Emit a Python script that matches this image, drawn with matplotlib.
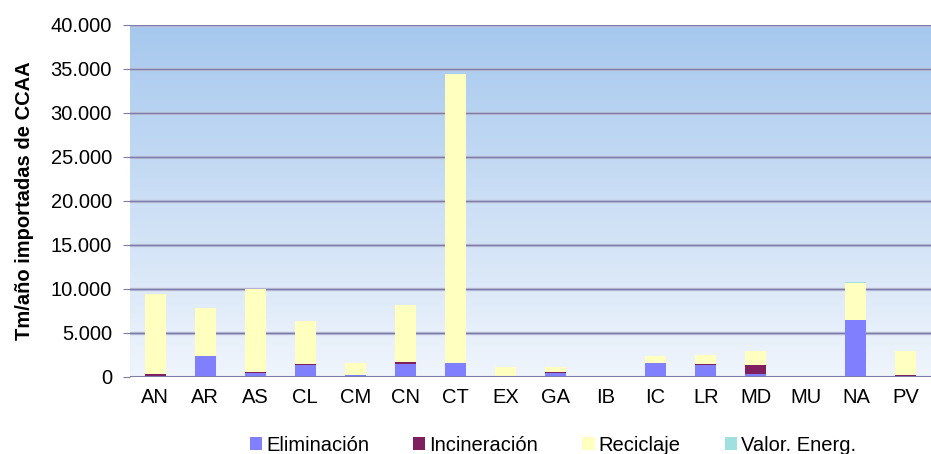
import numpy as np
import matplotlib
matplotlib.use("Agg")
import matplotlib.pyplot as plt
from matplotlib.colors import LinearSegmentedColormap
from matplotlib.ticker import FuncFormatter

regions = ["AN", "AR", "AS", "CL", "CM", "CN", "CT", "EX",
           "GA", "IB", "IC", "LR", "MD", "MU", "NA", "PV"]
eliminacion = [150, 2420, 490, 1400, 270, 1520, 1630, 0,
               420, 0, 1630, 1400, 380, 0, 6520, 80]
incineracion = [230, 0, 110, 110, 0, 230, 0, 0,
                110, 0, 0, 110, 1020, 80, 0, 190]
reciclaje = [9100, 5460, 9360, 4820, 1360, 6390, 32800, 1100,
             570, 70, 790, 1030, 1520, 0, 4200, 2650]
valor_energ = [0, 0, 50, 0, 0, 0, 0, 0,
               0, 0, 0, 0, 0, 0, 100, 0]

series = [
    ("Eliminación", eliminacion, "#8080ff"),
    ("Incineración", incineracion, "#7f1f5f"),
    ("Reciclaje", reciclaje, "#ffffc0"),
    ("Valor. Energ.", valor_energ, "#a0e0e0"),
]

plt.rcParams["font.family"] = ["Liberation Sans", "DejaVu Sans"]

fig = plt.figure(figsize=(9.31, 4.54), dpi=100)
ax = fig.add_axes([130 / 931, 77 / 454, 801 / 931, 352 / 454])

x = np.arange(len(regions))
ax.set_xlim(-0.5, len(regions) - 0.5)

# gradient background, darker blue at the top
grad = np.linspace(0, 1, 256).reshape(-1, 1)
cmap = LinearSegmentedColormap.from_list("bg", ["#a6c8ee", "#f0f5fc"])
ax.imshow(grad, aspect="auto", cmap=cmap, extent=(-0.5, len(regions) - 0.5, 0, 40000),
          zorder=0, origin="upper")
ax.set_ylim(0, 40000)

for yv in range(5000, 40001, 5000):
    ax.axhline(yv, color="#c0c4dc", lw=2.4, zorder=1)
    ax.axhline(yv, color="#7c7ca8", lw=1.0, zorder=1.1)
ax.axhline(0, color="#7c7ca8", lw=1.5, zorder=4)

bottom = np.zeros(len(regions))
for name, vals, col in series:
    ax.bar(x, vals, 0.42, bottom=bottom, color=col, label=name, zorder=3)
    bottom += np.array(vals)

for s in ax.spines.values():
    s.set_visible(False)

ax.set_xticks(x)
ax.set_xticklabels(regions, fontsize=14.5)
ax.set_yticks(range(0, 40001, 5000))
ax.yaxis.set_major_formatter(FuncFormatter(lambda v, p: f"{int(v):,}".replace(",", ".")))
ax.tick_params(axis="y", labelsize=14.5, length=5, color="#7c7ca8", pad=8)
ax.tick_params(axis="x", length=0, pad=8)
ax.set_ylabel("Tm/año importadas de CCAA", fontsize=14.5, fontweight="bold", labelpad=12)

fig.legend(loc="lower center", bbox_to_anchor=(0.594, -0.042), ncol=4, frameon=False,
           fontsize=14.5, handlelength=0.6, handleheight=0.6, handletextpad=0.2,
           columnspacing=2.2)

fig.savefig("out.png", dpi=100)
